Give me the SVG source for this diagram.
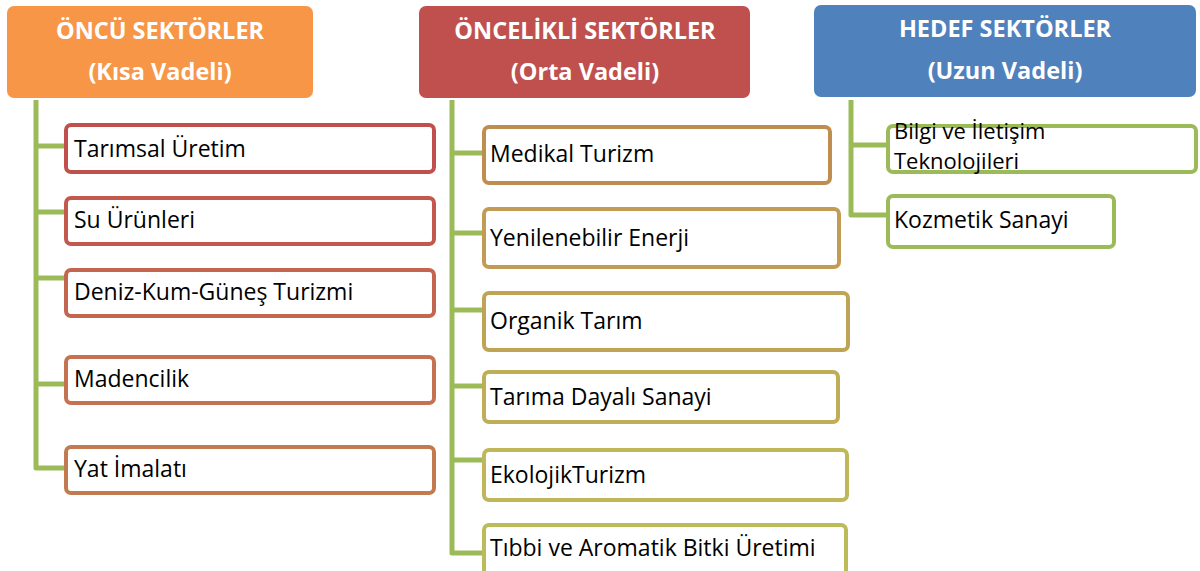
<svg xmlns="http://www.w3.org/2000/svg" width="1200" height="571" viewBox="0 0 1200 571">
<style>
.hdr{stroke:none}
.ht{font-family:"Open Sans","Liberation Sans",sans-serif;font-weight:700;font-size:23.5px;fill:#fff;text-anchor:middle}
.box{fill:#fff;stroke-width:4}
.bt{font-family:"Open Sans","Liberation Sans",sans-serif;font-size:23px;fill:#000}
.bt2{font-family:"Open Sans","Liberation Sans",sans-serif;font-size:22px;fill:#000}
.con{fill:none;stroke:#9BBB59;stroke-width:5;stroke-linejoin:round}
</style>
<rect width="1200" height="571" fill="#fff"/>
<g id="connectors">
<path class="con" d="M36,100 V468 H66 M36,146 H66 M36,212 H66 M36,278 H66 M36,384 H66"/>
<path class="con" d="M452,100 V553 H483 M452,153 H483 M452,233 H483 M452,310 H483 M452,386 H483 M452,460 H483"/>
<path class="con" d="M851,100 V215 H887 M851,145 H887"/>
</g>
<g id="h1"><rect class="hdr" x="7" y="6" width="306" height="92" rx="7" fill="#F79646"/>
<text class="ht" x="160" y="39">ÖNCÜ SEKTÖRLER</text><text class="ht" x="160" y="80">(Kısa Vadeli)</text></g>
<g id="h2"><rect class="hdr" x="419" y="6" width="331" height="92" rx="7" fill="#C0504D"/>
<text class="ht" x="585" y="39">ÖNCELİKLİ SEKTÖRLER</text><text class="ht" x="585" y="80">(Orta Vadeli)</text></g>
<g id="h3"><rect class="hdr" x="814" y="5" width="382" height="92" rx="7" fill="#4F81BD"/>
<text class="ht" x="1005" y="37">HEDEF SEKTÖRLER</text><text class="ht" x="1005" y="79">(Uzun Vadeli)</text></g>

<g id="n1"><rect class="box" x="66" y="125" width="368" height="47" rx="5" stroke="#C0504D"/><text class="bt" x="74" y="157">Tarımsal Üretim</text></g>
<g id="n2"><rect class="box" x="66" y="198" width="368" height="46" rx="5" stroke="#C3594D"/><text class="bt" x="74" y="228">Su Ürünleri</text></g>
<g id="n3"><rect class="box" x="66" y="270" width="368" height="46" rx="5" stroke="#C4664F"/><text class="bt" x="74" y="300">Deniz-Kum-Güneş Turizmi</text></g>
<g id="n4"><rect class="box" x="66" y="357" width="368" height="46" rx="5" stroke="#C47250"/><text class="bt" x="74" y="387">Madencilik</text></g>
<g id="n5"><rect class="box" x="66" y="447" width="368" height="46" rx="5" stroke="#C27A50"/><text class="bt" x="74" y="477">Yat İmalatı</text></g>

<g id="n6"><rect class="box" x="484" y="127" width="346" height="56" rx="5" stroke="#C08D50"/><text class="bt" x="490" y="162">Medikal Turizm</text></g>
<g id="n7"><rect class="box" x="484" y="209" width="355" height="58" rx="5" stroke="#C29B54"/><text class="bt" x="490" y="246">Yenilenebilir Enerji</text></g>
<g id="n8"><rect class="box" x="484" y="293" width="364" height="57" rx="5" stroke="#C0A455"/><text class="bt" x="490" y="329">Organik Tarım</text></g>
<g id="n9"><rect class="box" x="484" y="372" width="354" height="50" rx="5" stroke="#C0AD58"/><text class="bt" x="490" y="405">Tarıma Dayalı Sanayi</text></g>
<g id="n10"><rect class="box" x="484" y="450" width="363" height="50" rx="5" stroke="#BFB75A"/><text class="bt" x="490" y="483">EkolojikTurizm</text></g>
<g id="n11"><rect class="box" x="484" y="525" width="362" height="52" rx="5" stroke="#BBBB5A"/><text class="bt" x="490" y="556">Tıbbi ve Aromatik Bitki Üretimi</text></g>

<g id="n12"><rect class="box" x="888" y="126" width="308" height="46" rx="5" stroke="#9BBB59"/><text class="bt2" x="894" y="139">Bilgi ve İletişim</text><text class="bt2" x="894" y="169">Teknolojileri</text></g>
<g id="n13"><rect class="box" x="888" y="196" width="226" height="51" rx="5" stroke="#9BBB59"/><text class="bt" x="894" y="228">Kozmetik Sanayi</text></g>
</svg>
